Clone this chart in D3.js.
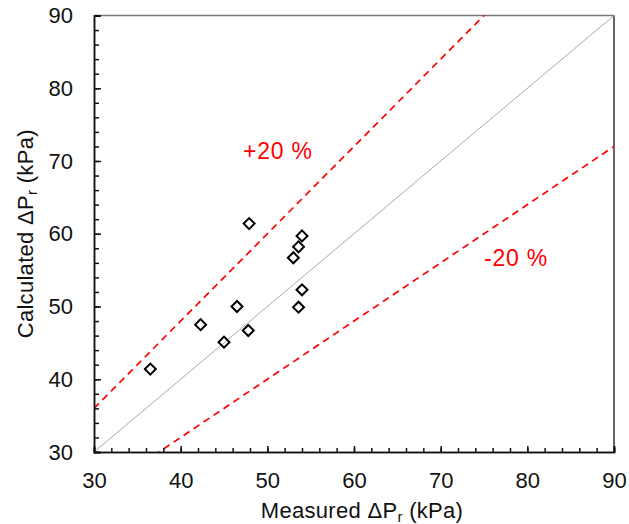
<!DOCTYPE html>
<html>
<head>
<meta charset="utf-8">
<script src="https://cdn.jsdelivr.net/npm/d3@7"></script>
<style>
  body { margin: 0; background: #fff; }
  text { font-family: "Liberation Sans", Arial, sans-serif; }
</style>
</head>
<body>
<svg id="chart" width="629" height="524"></svg>
<script>
// measured vs calculated pressure drop (kPa)
const measured   = [47.9, 54.0, 53.6, 53.0, 54.0, 53.6, 46.5, 42.3, 47.8, 45.0, 36.5];
const calculated = [61.4, 59.7, 58.2, 56.7, 52.3, 49.9, 50.0, 47.5, 46.7, 45.1, 41.4];
const tickValues = [30, 40, 50, 60, 70, 80, 90];
const minorTicks = d3.range(30, 91, 2);
const bandFactors = [1.2, 0.8];
const bandLabels = ["+20 %", "-20 %"];

const svg = d3.select("#chart");
const margin = {left: 94, top: 15.5, right: 614, bottom: 452};

const x = d3.scaleLinear().domain([30, 90]).range([margin.left, margin.right]);
const y = d3.scaleLinear().domain([30, 90]).range([margin.bottom, margin.top]);

svg.append("clipPath").attr("id", "clip")
  .append("rect")
  .attr("x", margin.left).attr("y", margin.top)
  .attr("width", margin.right - margin.left)
  .attr("height", margin.bottom - margin.top);

// frame: top grey, right dark
svg.append("line")
  .attr("x1", margin.left).attr("x2", margin.right)
  .attr("y1", margin.top).attr("y2", margin.top)
  .attr("stroke", "#777").attr("stroke-width", 1.5);
svg.append("line")
  .attr("x1", margin.right).attr("x2", margin.right)
  .attr("y1", margin.top).attr("y2", margin.bottom)
  .attr("stroke", "#333").attr("stroke-width", 1.5);

const plot = svg.append("g").attr("clip-path", "url(#clip)");

// 1:1 line
plot.append("line")
  .attr("x1", x(30)).attr("y1", y(30))
  .attr("x2", x(90)).attr("y2", y(90))
  .attr("stroke", "#aaa").attr("stroke-width", 1);

// +/-20 % lines
bandFactors.forEach(f => {
  plot.append("line")
    .attr("x1", x(30)).attr("y1", y(30 * f))
    .attr("x2", x(90)).attr("y2", y(90 * f))
    .attr("stroke", "#ff0000").attr("stroke-width", 1.7)
    .attr("stroke-dasharray", "7,5");
});

// axes with inward ticks
const xMinor = d3.axisBottom(x).tickValues(minorTicks).tickSize(-4).tickFormat("");
const yMinor = d3.axisLeft(y).tickValues(minorTicks).tickSize(-5).tickFormat("");
const xAxis = d3.axisBottom(x).tickValues(tickValues).tickSize(-6).tickPadding(20);
const yAxis = d3.axisLeft(y).tickValues(tickValues).tickSize(-7).tickPadding(21);

[xMinor, xAxis].forEach(a => {
  svg.append("g").attr("transform", `translate(0,${margin.bottom})`).call(a)
    .call(g => g.selectAll("path,line").attr("stroke", "#111").attr("stroke-width", 1.5));
});
[yMinor, yAxis].forEach(a => {
  svg.append("g").attr("transform", `translate(${margin.left},0)`).call(a)
    .call(g => g.selectAll("path,line").attr("stroke", "#111").attr("stroke-width", 1.5));
});
svg.selectAll(".tick text")
  .attr("font-size", 22)
  .attr("fill", "#111")
  .style("font-family", "'Liberation Sans', Arial, sans-serif");

// data points as diamonds
svg.append("g").selectAll("path")
  .data(measured.map((m, i) => [m, calculated[i]]))
  .join("path")
  .attr("d", d3.symbol().type(d3.symbolSquare).size(60))
  .attr("transform", d => `translate(${x(d[0])},${y(d[1])}) rotate(45)`)
  .attr("fill", "none")
  .attr("stroke", "#000")
  .attr("stroke-width", 2);

// band labels
svg.append("text").attr("x", 243).attr("y", 159)
  .attr("font-size", 23).attr("letter-spacing", 0.8)
  .attr("fill", "#ff0000").text(bandLabels[0]);
svg.append("text").attr("x", 484).attr("y", 266)
  .attr("font-size", 23).attr("letter-spacing", 0.8)
  .attr("fill", "#ff0000").text(bandLabels[1]);

// axis titles
const xt = svg.append("text")
  .attr("x", 362)
  .attr("y", 518)
  .attr("text-anchor", "middle")
  .attr("font-size", 22)
  .attr("letter-spacing", 0.3)
  .attr("fill", "#111");
xt.append("tspan").text("Measured ΔP");
xt.append("tspan").attr("font-size", 15).attr("dy", 4).text("r");
xt.append("tspan").attr("dy", -4).text(" (kPa)");

const yt = svg.append("text")
  .attr("transform", `translate(33,${(margin.top + margin.bottom) / 2}) rotate(-90)`)
  .attr("text-anchor", "middle")
  .attr("font-size", 22)
  .attr("letter-spacing", 0.3)
  .attr("fill", "#111");
yt.append("tspan").text("Calculated ΔP");
yt.append("tspan").attr("font-size", 15).attr("dy", 4).text("r");
yt.append("tspan").attr("dy", -4).text(" (kPa)");
</script>
</body>
</html>
